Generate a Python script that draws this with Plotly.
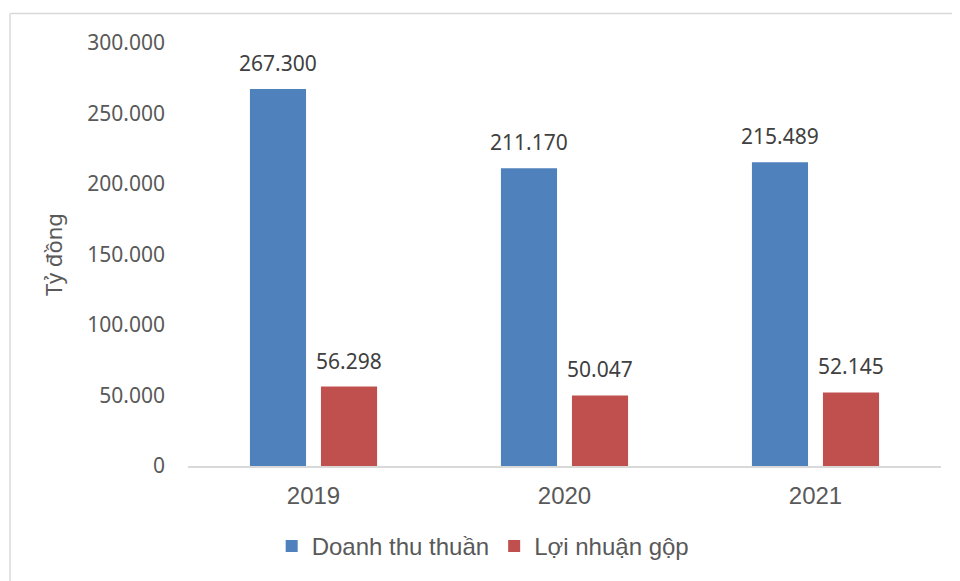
import plotly.graph_objects as go

years = ["2019", "2020", "2021"]
doanh_thu = [267300, 211170, 215489]
loi_nhuan = [56298, 50047, 52145]
series_names = ["Doanh thu thuần", "Lợi nhuận gộp"]
y_ticks = [0, 50000, 100000, 150000, 200000, 250000, 300000]
colors = ["#4F81BD", "#C0504D"]

def fmt(v):
    return f"{v:,}".replace(",", ".")

xpos = list(range(len(years)))

fig = go.Figure()
for name, vals, col in zip(series_names, [doanh_thu, loi_nhuan], colors):
    fig.add_trace(go.Bar(x=xpos, y=vals, name=name, marker=dict(color=col, line=dict(width=0))))

# data labels
offsets = [-35.5, 35.5]
for vals, dx in zip([doanh_thu, loi_nhuan], offsets):
    for xi, v in zip(xpos, vals):
        fig.add_annotation(x=xi, y=v, xref="x", yref="y", text=fmt(v), showarrow=False,
                           xshift=dx, yshift=26, yanchor="middle", xanchor="center",
                           font=dict(family="Noto Sans", size=21, color="#404040"))

# chart border (partial, as in reference)
fig.add_shape(type="line", xref="paper", yref="paper", x0=-0.2364, x1=1.2, y0=1.07, y1=1.07,
              line=dict(color="#d9d9d9", width=1.5))
fig.add_shape(type="line", xref="paper", yref="paper", x0=-0.2364, x1=-0.2364, y0=1.07, y1=-0.5,
              line=dict(color="#d9d9d9", width=1.5))

fig.update_layout(
    width=952, height=573,
    margin=dict(l=180, r=19, t=35, b=109),
    paper_bgcolor="white", plot_bgcolor="white",
    barmode="group", bargap=0.434, bargroupgap=0.21,
    showlegend=True,
    legend=dict(orientation="h", x=0.392, xanchor="center", y=-0.19, yanchor="middle",
                font=dict(family="Liberation Sans, Arial", size=24, color="#595959")),
)
fig.update_xaxes(range=[-0.5, len(years) - 0.5], tickvals=xpos, ticktext=years,
                 showline=True, linecolor="#d9d9d9", linewidth=1.5, showgrid=False, zeroline=False,
                 ticks="", ticklabelstandoff=7,
                 tickfont=dict(family="Liberation Sans, Arial", size=24, color="#595959"))
fig.update_yaxes(range=[0, 300000], showline=False, showgrid=False, zeroline=False,
                 tickvals=y_ticks, ticktext=[fmt(v) for v in y_ticks], ticklabelstandoff=22,
                 tickfont=dict(family="Noto Sans", size=21, color="#595959"),
                 title=dict(text="Tỷ đồng", standoff=18,
                            font=dict(family="Noto Sans", size=22, color="#595959")))

fig.write_html("out.html")
